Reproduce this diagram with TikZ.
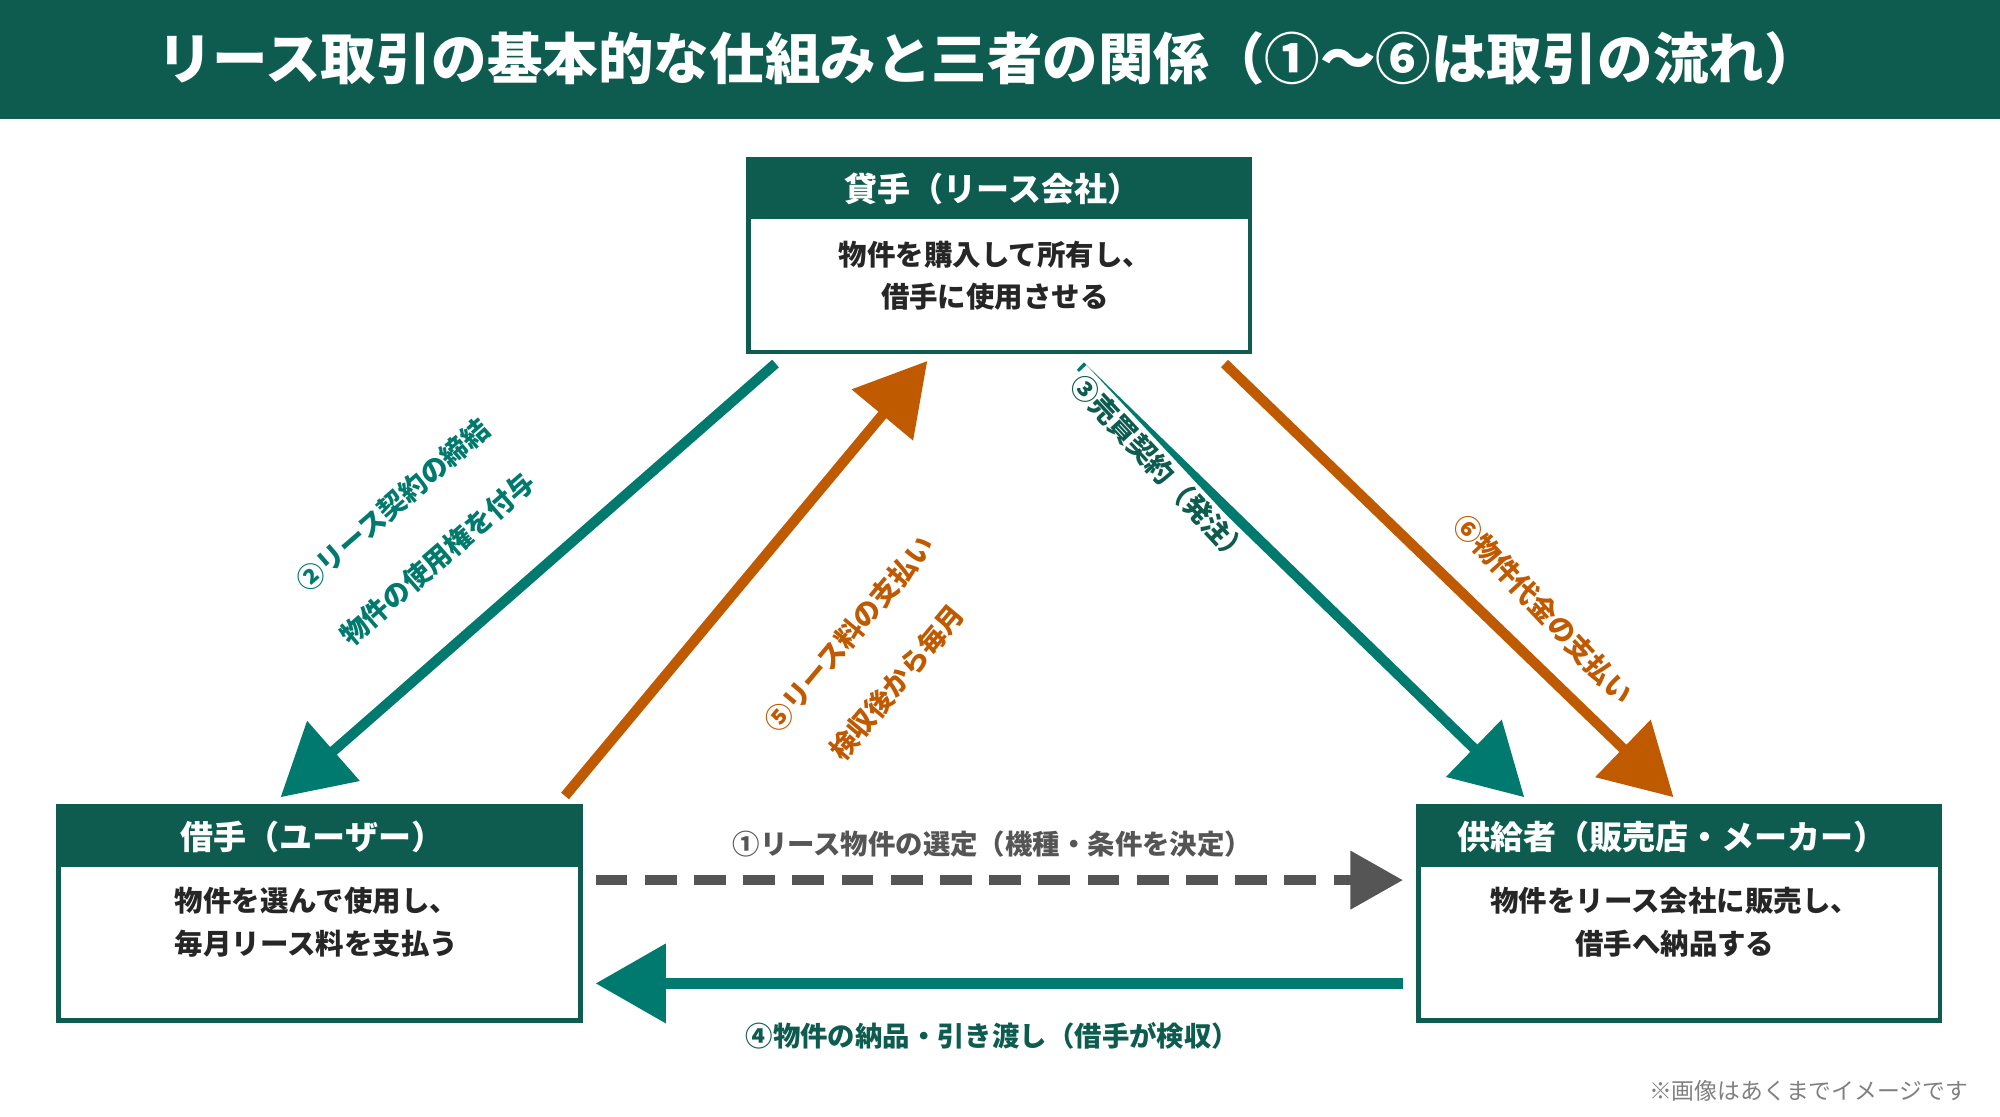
\documentclass[tikz,border=0pt]{standalone}
\usepackage{fontspec}
\setmainfont{Noto Sans CJK JP}
\usetikzlibrary{arrows.meta}
\definecolor{dg}{HTML}{0E5C4F}
\definecolor{tl}{HTML}{007A6E}
\definecolor{og}{HTML}{C05A00}
\definecolor{gy}{HTML}{555555}
\begin{document}
\begin{tikzpicture}[x=0.012755cm,y=-0.012755cm,
  hd/.style={text=white,font=\fontsize{9.4}{11}\selectfont\bfseries},
  body/.style={font=\fontsize{8.1}{12}\selectfont\bfseries,align=center,text=black!85},
  arr/.style={line width=2.9pt,-{Triangle[length=20pt,width=22pt]}},
  lab/.style={font=\fontsize{7.8}{9}\selectfont\bfseries}]
\useasboundingbox (0,0) rectangle (1568,875);
\fill[dg] (0,0) rectangle (1568,93);
\node[text=white,font=\fontsize{15.8}{17}\selectfont\bfseries] (title) at (775,46) {リース取引の基本的な仕組みと三者の関係（①～⑥は取引の流れ）};
% boxes
\draw[dg,line width=1.3pt,fill=white] (587,125) rectangle (980,276);
\fill[dg] (587,125) rectangle (980,172);
\node[hd] (lh) at (778,148) {貸手（リース会社）};
\node[body] (lb) at (780,216) {物件を購入して所有し、\\借手に使用させる};
\draw[dg,line width=1.3pt,fill=white] (46,632) rectangle (455,800);
\fill[dg] (46,632) rectangle (455,680);
\node[hd] (bh) at (245,656) {借手（ユーザー）};
\node[body] (bb) at (248,723) {物件を選んで使用し、\\毎月リース料を支払う};
\draw[dg,line width=1.3pt,fill=white] (1112,632) rectangle (1521,800);
\fill[dg] (1112,632) rectangle (1521,680);
\node[hd] (sh) at (1311,656) {供給者（販売店・メーカー）};
\node[body] (sb) at (1313,723) {物件をリース会社に販売し、\\借手へ納品する};
% arrow coordinates
\coordinate (a1) at (608,285); \coordinate (a2) at (220,625);
\coordinate (b1) at (443,624); \coordinate (b2) at (727,283);
\coordinate (c1) at (847,287); \coordinate (c2) at (1195,625);
\coordinate (d1) at (960,285); \coordinate (d2) at (1312,625);
\coordinate (e1) at (467,690); \coordinate (e2) at (1100,690);
\coordinate (f1) at (1100,771); \coordinate (f2) at (467,771);
\draw[arr,tl] (a1) -- (a2);
\draw[arr,og] (b1) -- (b2);
\draw[arr,tl] (c1) -- (c2);
\draw[arr,og] (d1) -- (d2);
\draw[gy,line width=2.9pt,dash pattern=on 9pt off 5pt,-{Triangle[length=15pt,width=16pt]}] (e1) -- (e2);
\draw[arr,tl] (f1) -- (f2);
% labels
\node[lab,text=tl,rotate=41] (l2a) at (308,396) {②リース契約の締結};
\node[lab,text=tl,rotate=41] (l2b) at (343,438) {物件の使用権を付与};
\node[lab,text=og,rotate=50] (l5a) at (666,497) {⑤リース料の支払い};
\node[lab,text=og,rotate=50] (l5b) at (703,535) {検収後から毎月};
\node[lab,text=dg,rotate=-47,fill=white,inner sep=1pt] (l3) at (910,368) {③売買契約（発注）};
\node[lab,text=og,rotate=-47] (l6) at (1210,478) {⑥物件代金の支払い};
\node[lab,text=gy] (l1) at (778,662) {①リース物件の選定（機種・条件を決定）};
\node[lab,text=dg] (l4) at (778,812) {④物件の納品・引き渡し（借手が検収）};
\node[text=gray,font=\fontsize{6.5}{8}\selectfont] (note) at (1418,855) {※画像はあくまでイメージです};
\end{tikzpicture}
\end{document}
